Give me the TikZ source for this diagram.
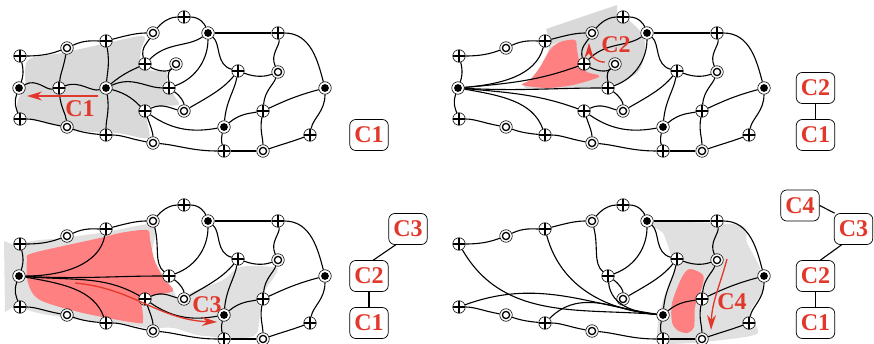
\documentclass[tikz,border=0pt]{standalone}
\usepackage{fontspec}
\setmainfont{Liberation Serif}
\usetikzlibrary{arrows.meta}
\definecolor{patchred}{HTML}{FF8080}
\definecolor{labelred}{HTML}{E2382B}
\tikzset{
	vert/.style = {circle, draw = black, line width = 0.6pt, fill = white, inner sep = 0pt, minimum size = 12.5pt},
	plusv/.style = {vert, path picture = {\draw[line width = 1.4pt] (path picture bounding box.north) -- (path picture bounding box.south) (path picture bounding box.west) -- (path picture bounding box.east);}},
	ringv/.style = {vert, path picture = {\draw[line width = 1.3pt] (path picture bounding box.center) circle [radius = 3.6pt];}},
	dotv/.style = {vert, path picture = {\fill[black] (path picture bounding box.center) circle [radius = 3.9pt];}},
	edge/.style = {black, line width = 1.1pt},
	clique/.style = {draw = black, line width = 0.7pt, fill = white, rounded corners = 6pt, minimum width = 38.5pt, minimum height = 31pt, inner sep = 0pt, text = labelred, font = \fontsize{24}{24}\selectfont\bfseries},
	tag/.style = {text = labelred, inner sep = 0pt, font = \fontsize{24}{24}\selectfont\bfseries},
	link/.style = {black, line width = 1.1pt},
	sweep/.style = {labelred, line width = 1.3pt, -{Stealth[length = 15pt, width = 9pt]}}
}
\newcommand{\plusverts}[1]{\foreach \n/\x/\y in {#1} {\node[plusv] (v\n) at (\x,\y) {};}}
\newcommand{\ringverts}[1]{\foreach \n/\x/\y in {#1} {\node[ringv] (v\n) at (\x,\y) {};}}
\newcommand{\dotverts}[1]{\foreach \n/\x/\y in {#1} {\node[dotv] (v\n) at (\x,\y) {};}}
\newcommand{\joinverts}[1]{\foreach \u/\v/\o/\i in {#1} {\draw[edge] (v\u) to[out = \o, in = \i] (v\v);}}
\newcommand{\coreverts}{
	\plusverts{1/20/56, 3/106/41, 5/184/17, 7/278/33, 10/238/71, 15/169/88, 19/263/111, 20/20/119, 22/106/135, 24/310/135, 26/224/151}
	\ringverts{2/67/48, 4/153/33, 11/278/72, 18/184/111, 21/67/127, 25/153/143, 27/263/151}
	\dotverts{6/208/33, 16/325/88, 23/224/127}
}
\newcommand{\coreedges}{
	\joinverts{1/2/0/200, 2/3/25/180, 3/4/15/180, 4/5/50/180, 5/6/0/110, 6/7/0/180, 7/16/0/105, 16/19/195/25, 16/24/270/80, 24/27/200/20, 27/26/180/0, 26/25/180/-5, 25/22/170/0, 22/21/175/340, 21/20/170/0}
	\joinverts{15/6/20/270, 15/18/-35/90, 18/10/30/230, 23/19/40/190, 23/26/255/105, 23/10/85/260, 19/11/85/250, 19/27/260/90, 10/6/165/-40, 10/11/-20/200, 11/7/115/280}
}
\begin{document}
\begin{tikzpicture}[x = 1pt, y = -1pt]
\useasboundingbox (0,0) rectangle (874,344);

\begin{scope}[name prefix = a-]
\fill[black!15] plot[smooth cycle, tension = 0.5] coordinates {(28,60) (62,53) (103,44) (143,36) (141,50) (141,68) (160,71) (167,72) (167,84) (175,97) (178,105) (150,107) (147,120) (148,138) (117,133) (73,131) (63,127) (20,115) (18,100) (25,87)};
\coreverts
\plusverts{8/145/64, 13/59/88, 17/145/111}
\ringverts{9/176/64}
\dotverts{12/19/88, 14/106/88}
\coreedges
\joinverts{1/12/-75/70, 12/20/250/110, 12/13/30/190, 13/14/20/195, 2/13/260/85, 13/21/275/95, 3/14/280/85, 14/22/280/90, 14/8/40/205, 14/15/25/180, 14/17/-15/135, 8/4/105/240, 8/6/45/215, 8/9/-30/230, 9/15/225/90, 17/18/25/170, 17/25/-70/90, 17/23/-35/190}
\coordinate (from) at (98,96);
\coordinate (to) at (27,96);
\draw[sweep] (from) -- (to);
\node[tag] (lab) at (80,109) {C1};
\node[clique] (c1) at (369,135) {C1};
\end{scope}

\begin{scope}[xshift = 439pt, name prefix = b-]
\fill[black!15] (107,29) -- (178,5) -- (178,25) -- (112,45) -- cycle;
\fill[black!15] plot[smooth cycle, tension = 0.5] coordinates {(115,45) (178,18) (194,24) (205,38) (205,57) (198,73) (171,86) (131,89) (86,88) (96,78) (107,58) (112,40)};
\fill[patchred] plot[smooth cycle, tension = 0.5] coordinates {(136,40) (121,42) (111,50) (101,67) (91,80) (83,85) (108,88) (134,85) (158,78) (159,75) (148,72) (141,63) (138,50)};
\coreverts
\plusverts{8/145/64, 17/145/111}
\ringverts{9/176/64}
\dotverts{12/19/88}
\coreedges
\joinverts{1/12/-75/70, 12/20/250/110, 12/3/5/255, 12/8/5/200, 12/15/-3/180, 12/17/-5/160, 12/22/-10/110, 8/4/105/240, 8/6/45/215, 8/9/-30/230, 9/15/225/90, 17/18/25/170, 17/25/-70/90, 17/23/-35/190}
\coordinate (from) at (166,62);
\coordinate (to) at (150,43);
\draw[sweep] (from) to[out = 185, in = 270] (to);
\node[tag] (lab) at (177,45) {C2};
\node[clique] (c2) at (376.5,88) {C2};
\node[clique] (c1) at (376.5,135) {C1};
\draw[link] (c2) -- (c1);
\end{scope}

\begin{scope}[yshift = -188pt, name prefix = c-]
\fill[black!12] (4,53) -- (20,59) -- (20,115) -- (5,124) -- cycle;
\fill[black!12] plot[smooth cycle, tension = 0.5] coordinates {(20,59) (65,50) (106,44) (150,36) (156,44) (152,65) (160,82) (172,100) (178,112) (186,114) (190,105) (223,92) (240,79) (273,79) (277,84) (262,109) (257,145) (240,150) (217,149) (197,147) (173,140) (147,140) (117,135) (67,130) (17,115)};
\fill[patchred] plot[smooth cycle, tension = 0.5] coordinates {(147,42) (120,45) (100,50) (33,65) (27,72) (28,95) (40,112) (83,125) (137,135) (143,132) (142,112) (150,108) (173,103) (165,92) (155,74) (150,52)};
\coreverts
\plusverts{17/145/111}
\dotverts{12/19/88}
\coreedges
\joinverts{1/12/-75/70, 12/20/250/110, 12/3/0/260, 12/15/-3/180, 12/17/-5/150, 12/22/-10/110, 4/15/285/140, 17/18/25/170, 17/25/-70/90, 17/23/-35/190}
\coordinate (from) at (75,95);
\coordinate (to) at (217,134);
\draw[sweep] (from) to[out = -5, in = 178] (to);
\node[tag] (lab) at (207,117) {C3};
\node[clique] (c3) at (408,41) {C3};
\node[clique] (c2) at (369,88) {C2};
\node[clique] (c1) at (369,135) {C1};
\draw[link] (c3.232) -- (c2.75);
\draw[link] (c2) -- (c1);
\end{scope}

\begin{scope}[xshift = 439pt, yshift = -188pt, name prefix = d-]
\fill[black!12] plot[smooth cycle, tension = 0.4] coordinates {(214,34) (301,37) (308,55) (321,80) (324,102) (311,125) (318,146) (264,154) (221,155) (219,135) (224,112) (236,80) (233,70) (228,55) (224,45)};
\fill[patchred] plot[smooth cycle, tension = 0.5] coordinates {(251,81) (264,87) (263,99) (256,119) (255,139) (248,145) (238,142) (233,134) (233,115) (243,89)};
\coreverts
\coreedges
\joinverts{4/15/285/140, 15/23/-85/175, 1/23/-60/175, 3/23/-75/175, 20/23/20/172, 22/23/45/175}
\coordinate (from) at (288,71);
\coordinate (to) at (272,142);
\draw[sweep] (from) to[out = -105, in = 88] (to);
\node[tag] (lab) at (293,114) {C4};
\node[clique] (c4) at (361,17.5) {C4};
\node[clique] (c3) at (414.5,41) {C3};
\node[clique] (c2) at (376.5,88) {C2};
\node[clique] (c1) at (376.5,135) {C1};
\draw[link] (c4.0) -- (c3.140);
\draw[link] (c3.233) -- (c2.73);
\draw[link] (c2) -- (c1);
\end{scope}
\end{tikzpicture}
\end{document}
